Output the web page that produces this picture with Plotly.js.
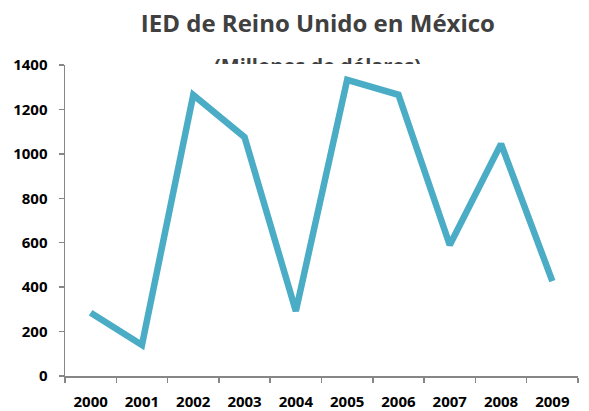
<!DOCTYPE html>
<html>
<head>
<meta charset="utf-8">
<script src="https://cdn.plot.ly/plotly-3.0.1.min.js"></script>
<style>html,body{margin:0;padding:0;background:#fff;}#chart{width:589px;height:411px;}</style>
</head>
<body>
<div id="chart"></div>
<script>
var years = ['2000','2001','2002','2003','2004','2005','2006','2007','2008','2009'];
var ied = [285, 140, 1265, 1075, 292, 1333, 1266, 590, 1045, 427];
var yTicks = [0, 200, 400, 600, 800, 1000, 1200, 1400];
var titleText = 'IED de Reino Unido en México';
var subtitleText = '(Millones de dólares)';

var trace = {
  x: years,
  y: ied,
  type: 'scatter',
  mode: 'lines',
  line: {color: '#4BACC6', width: 6.5, shape: 'linear'},
  hoverinfo: 'skip'
};

var layout = {
  width: 589,
  height: 411,
  margin: {l: 65, r: 11, t: 65, b: 35},
  paper_bgcolor: '#ffffff',
  plot_bgcolor: '#ffffff',
  showlegend: false,
  title: {
    text: '<b>' + titleText + '</b>',
    font: {family: 'Open Sans, sans-serif', size: 24, color: '#404040'},
    xref: 'paper', x: 0.493, xanchor: 'center',
    yref: 'container', y: 0.942, yanchor: 'middle'
  },
  annotations: [{
    text: '<b>' + subtitleText + '</b>',
    xref: 'paper', x: 0.493, xanchor: 'center',
    yref: 'paper', y: 1, yanchor: 'bottom', yshift: 0,
    showarrow: false,
    font: {family: 'Open Sans, sans-serif', size: 20, color: '#404040'},
    height: 12, valign: 'top', borderpad: 0
  }],
  xaxis: {
    type: 'category',
    range: [-0.5, 9.5],
    showgrid: false,
    zeroline: false,
    showline: true,
    linecolor: '#868686',
    linewidth: 1.5,
    ticks: 'outside',
    tickson: 'boundaries',
    ticklen: 5,
    tickcolor: '#868686',
    tickwidth: 1.5,
    ticklabelstandoff: 11,
    tickfont: {family: 'Open Sans, sans-serif', size: 15, color: '#000000', weight: 'bold'},
    fixedrange: true
  },
  yaxis: {
    range: [0, 1400],
    tickvals: yTicks,
    ticktext: yTicks.map(String),
    showgrid: false,
    zeroline: false,
    showline: true,
    linecolor: '#868686',
    linewidth: 1.5,
    ticks: 'outside',
    ticklen: 5,
    tickcolor: '#868686',
    tickwidth: 1.5,
    ticklabelstandoff: 8,
    tickfont: {family: 'Open Sans, sans-serif', size: 15, color: '#000000', weight: 'bold'},
    fixedrange: true
  }
};

Plotly.newPlot('chart', [trace], layout, {staticPlot: true, displayModeBar: false});
</script>
</body>
</html>
